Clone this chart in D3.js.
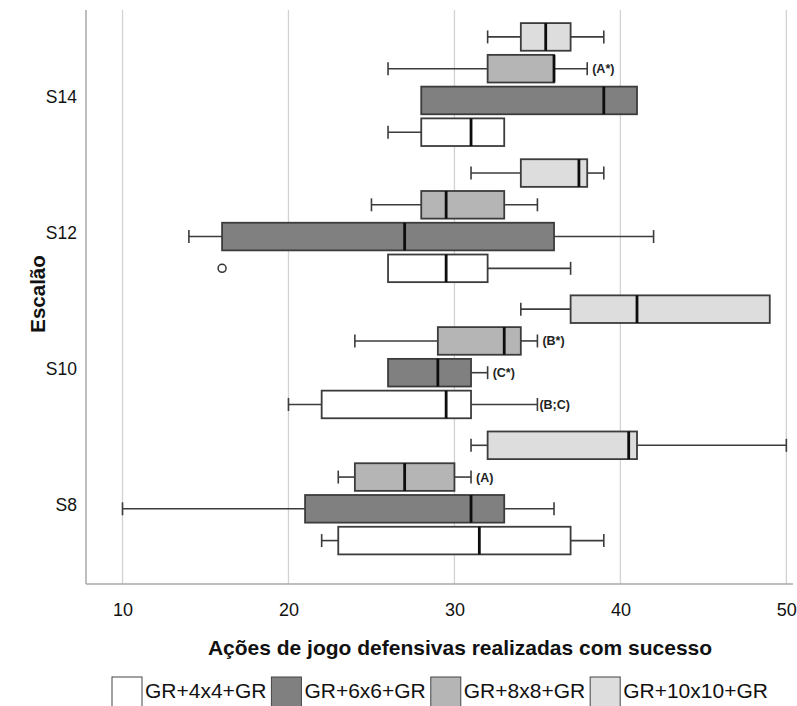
<!DOCTYPE html>
<html>
<head>
<meta charset="utf-8">
<script src="https://cdn.jsdelivr.net/npm/d3@7"></script>
<style>
  html, body { margin: 0; padding: 0; background: #fff; }
  svg { display: block; font-family: "Liberation Sans", Arial, sans-serif; }
</style>
</head>
<body>
<svg id="chart" width="797" height="706"></svg>
<script>
// Age groups, top to bottom
const categories = ["S14", "S12", "S10", "S8"];
// Game formats (legend order)
const series = ["GR+4x4+GR", "GR+6x6+GR", "GR+8x8+GR", "GR+10x10+GR"];
// Order of the boxes inside each age group, top to bottom
const stackOrder = ["GR+10x10+GR", "GR+8x8+GR", "GR+6x6+GR", "GR+4x4+GR"];
const xTicks = [10, 20, 30, 40, 50];

// Five-number summaries [min, Q1, median, Q3, max], one row per age group (S14, S12, S10, S8)
const stats4x4 = [[26, 28, 31, 33, 33], [26, 26, 29.5, 32, 37], [20, 22, 29.5, 31, 35], [22, 23, 31.5, 37, 39]];
const stats6x6 = [[28, 28, 39, 41, 41], [14, 16, 27, 36, 42], [26, 26, 29, 31, 32], [10, 21, 31, 33, 36]];
const stats8x8 = [[26, 32, 36, 36, 38], [25, 28, 29.5, 33, 35], [24, 29, 33, 34, 35], [23, 24, 27, 30, 31]];
const stats10x10 = [[32, 34, 35.5, 37, 39], [31, 34, 37.5, 38, 39], [34, 37, 41, 49, 49], [31, 32, 40.5, 41, 50]];

// Outliers
const outliers = [{ cat: "S12", series: "GR+4x4+GR", value: 16 }];

// Significance marks placed after the upper whisker
const marks = [
  { cat: "S14", series: "GR+8x8+GR", text: "(A*)" },
  { cat: "S10", series: "GR+8x8+GR", text: "(B*)" },
  { cat: "S10", series: "GR+6x6+GR", text: "(C*)" },
  { cat: "S10", series: "GR+4x4+GR", text: "(B;C)" },
  { cat: "S8", series: "GR+8x8+GR", text: "(A)" }
];

const fills = {
  "GR+4x4+GR": "#ffffff",
  "GR+6x6+GR": "#808080",
  "GR+8x8+GR": "#b5b5b5",
  "GR+10x10+GR": "#dddddd"
};

const statsBySeries = {
  "GR+4x4+GR": stats4x4,
  "GR+6x6+GR": stats6x6,
  "GR+8x8+GR": stats8x8,
  "GR+10x10+GR": stats10x10
};

const rows = [];
series.forEach(s => {
  categories.forEach((c, i) => {
    const [min, q1, med, q3, max] = statsBySeries[s][i];
    rows.push({ series: s, cat: c, min, q1, med, q3, max });
  });
});
const rowFor = (c, s) => rows.find(r => r.cat === c && r.series === s);

const svg = d3.select("#chart");
const plot = { left: 86, right: 793, top: 10, bottom: 584 };

const x = d3.scaleLinear().domain([7.8, 50.4]).range([plot.left, plot.right]);
const y0 = d3.scaleBand().domain(categories).range([16.5, 561]).padding(0);
const y1 = d3.scaleBand().domain(stackOrder).range([0, y0.bandwidth()])
  .paddingInner(0.13).paddingOuter(0.208);

// Vertical gridlines
svg.append("g")
  .selectAll("line")
  .data(xTicks)
  .join("line")
  .attr("x1", d => x(d)).attr("x2", d => x(d))
  .attr("y1", plot.top).attr("y2", plot.bottom)
  .attr("stroke", "#d2d2d2")
  .attr("stroke-width", 1.3);

// Axis lines
svg.append("line")
  .attr("x1", plot.left).attr("x2", plot.left)
  .attr("y1", plot.top).attr("y2", plot.bottom)
  .attr("stroke", "#a9a9a9").attr("stroke-width", 1.5);
svg.append("line")
  .attr("x1", plot.left).attr("x2", plot.right)
  .attr("y1", plot.bottom).attr("y2", plot.bottom)
  .attr("stroke", "#a9a9a9").attr("stroke-width", 1.5);

// X axis tick labels
const xAxis = svg.append("g")
  .attr("transform", `translate(0,${plot.bottom})`)
  .call(d3.axisBottom(x).tickValues(xTicks).tickSize(0).tickPadding(19).tickFormat(d3.format("d")));
xAxis.select(".domain").remove();
xAxis.selectAll("text")
  .attr("font-family", "'Liberation Sans', Arial, sans-serif")
  .attr("font-size", 18)
  .attr("fill", "#111");

// Y axis category labels
const yAxis = svg.append("g")
  .attr("transform", `translate(${plot.left},0)`)
  .call(d3.axisLeft(y0).tickSize(0).tickPadding(9));
yAxis.select(".domain").remove();
yAxis.selectAll("text")
  .attr("font-family", "'Liberation Sans', Arial, sans-serif")
  .attr("font-size", 17.5)
  .attr("fill", "#111")
  .attr("dy", "1.05em");

// Axis titles
svg.append("text")
  .attr("x", 460).attr("y", 655)
  .attr("text-anchor", "middle")
  .attr("font-size", 21).attr("font-weight", "bold")
  .attr("fill", "#111")
  .text("Ações de jogo defensivas realizadas com sucesso");

svg.append("text")
  .attr("transform", "translate(45,294) rotate(-90)")
  .attr("text-anchor", "middle")
  .attr("font-size", 20.5).attr("font-weight", "bold")
  .attr("fill", "#111")
  .text("Escalão");

// Box plots
const stroke = "#3c3c3c";
const boxes = svg.append("g")
  .selectAll("g")
  .data(rows)
  .join("g")
  .attr("transform", d => `translate(0,${y0(d.cat) + y1(d.series)})`);

const bh = y1.bandwidth();
const capH = 13;

// Whiskers
boxes.filter(d => d.min < d.q1).append("line")
  .attr("x1", d => x(d.min)).attr("x2", d => x(d.q1))
  .attr("y1", bh / 2).attr("y2", bh / 2)
  .attr("stroke", stroke).attr("stroke-width", 1.6);
boxes.filter(d => d.min < d.q1).append("line")
  .attr("x1", d => x(d.min)).attr("x2", d => x(d.min))
  .attr("y1", bh / 2 - capH / 2).attr("y2", bh / 2 + capH / 2)
  .attr("stroke", stroke).attr("stroke-width", 1.6);
boxes.filter(d => d.max > d.q3).append("line")
  .attr("x1", d => x(d.q3)).attr("x2", d => x(d.max))
  .attr("y1", bh / 2).attr("y2", bh / 2)
  .attr("stroke", stroke).attr("stroke-width", 1.6);
boxes.filter(d => d.max > d.q3).append("line")
  .attr("x1", d => x(d.max)).attr("x2", d => x(d.max))
  .attr("y1", bh / 2 - capH / 2).attr("y2", bh / 2 + capH / 2)
  .attr("stroke", stroke).attr("stroke-width", 1.6);

// Interquartile box
boxes.append("rect")
  .attr("x", d => x(d.q1))
  .attr("width", d => x(d.q3) - x(d.q1))
  .attr("y", 0).attr("height", bh)
  .attr("fill", d => fills[d.series])
  .attr("stroke", stroke).attr("stroke-width", 1.8);

// Median
boxes.append("line")
  .attr("x1", d => x(d.med)).attr("x2", d => x(d.med))
  .attr("y1", 0).attr("y2", bh)
  .attr("stroke", "#0d0d0d").attr("stroke-width", 2.8);

// Outliers
svg.append("g")
  .selectAll("circle")
  .data(outliers)
  .join("circle")
  .attr("cx", d => x(d.value))
  .attr("cy", d => y0(d.cat) + y1(d.series) + bh / 2)
  .attr("r", 4)
  .attr("fill", "#fff")
  .attr("stroke", "#333").attr("stroke-width", 1.5);

// Significance labels
svg.append("g")
  .selectAll("text")
  .data(marks)
  .join("text")
  .attr("x", d => x(rowFor(d.cat, d.series).max) + (d.text === "(B;C)" ? 2 : 5))
  .attr("y", d => y0(d.cat) + y1(d.series) + bh / 2 + 4.5)
  .attr("font-size", 12.5).attr("font-weight", "bold")
  .attr("fill", "#222")
  .text(d => d.text);

// Legend
const legend = svg.append("g").attr("transform", "translate(112,677)");
let lx = 0;
series.forEach(s => {
  const g = legend.append("g").attr("transform", `translate(${lx},0)`);
  g.append("rect")
    .attr("x", 0).attr("y", 0).attr("width", 30).attr("height", 30)
    .attr("fill", fills[s]).attr("stroke", "#444").attr("stroke-width", 1);
  const t = g.append("text")
    .attr("x", 33).attr("y", 21)
    .attr("font-size", 21)
    .attr("fill", "#111")
    .text(s);
  lx += 33 + t.node().getComputedTextLength() + 5;
});
</script>
</body>
</html>
